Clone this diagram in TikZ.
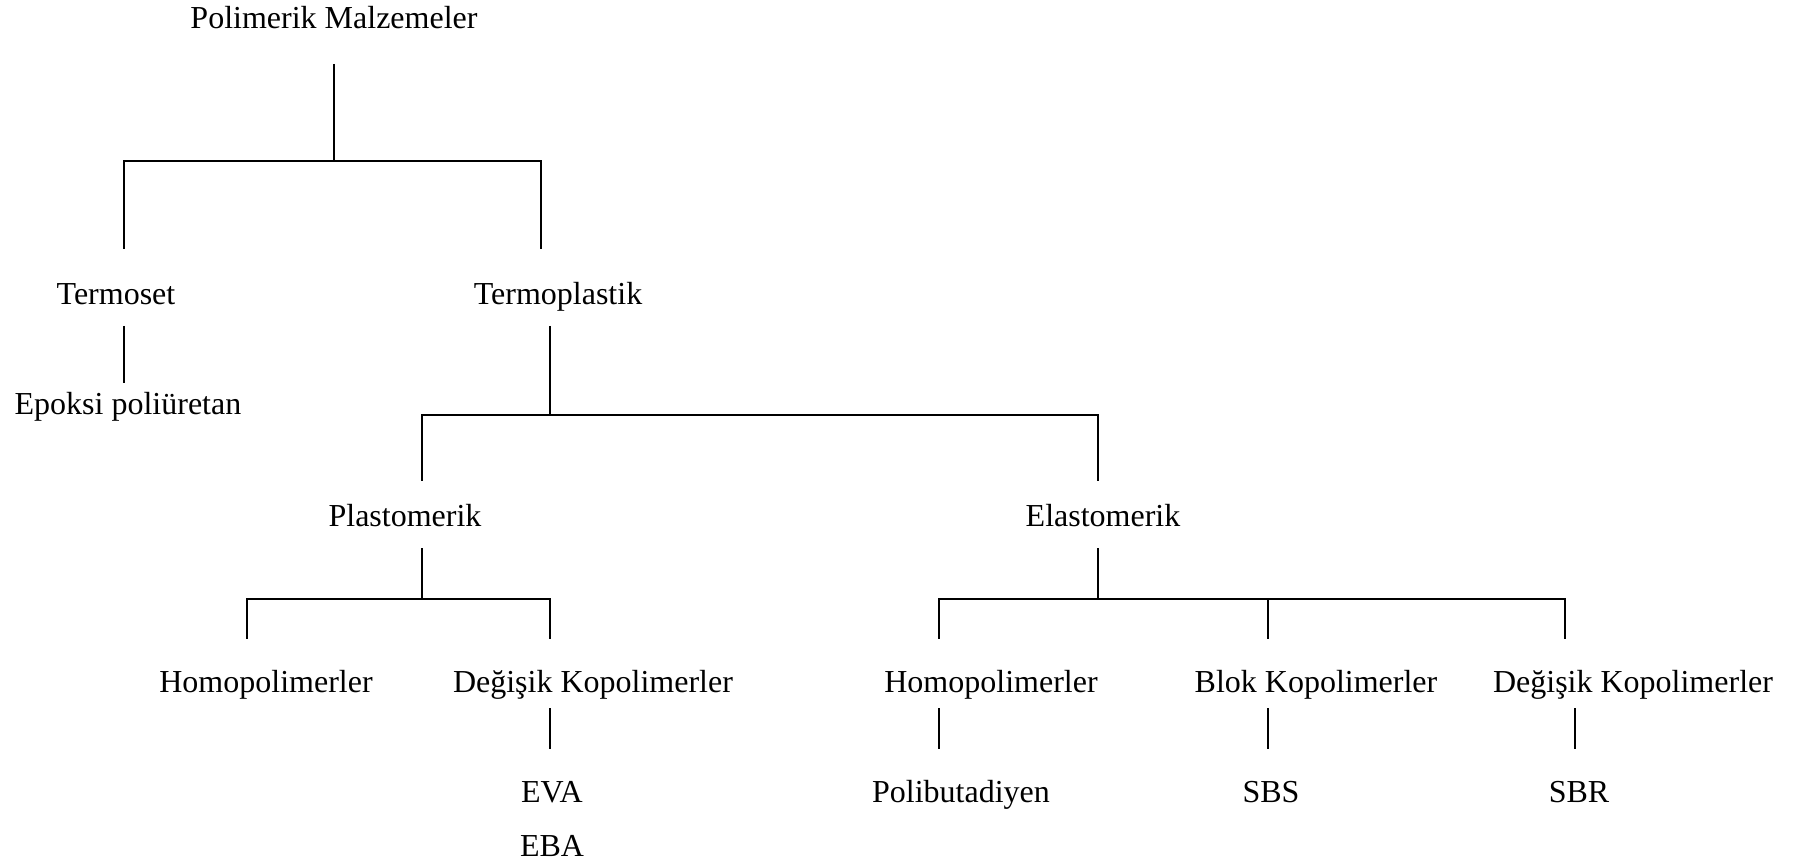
\documentclass[tikz,border=0pt]{standalone}
\usepackage{fontspec}
\setmainfont{Liberation Serif}
\begin{document}
\begin{tikzpicture}[x=1pt,y=-1pt,
  lbl/.style={inner sep=0pt, anchor=base, font=\fontsize{32}{38}\selectfont},
  vline/.style={line width=1.4pt},
  hbar/.style={line width=2.2pt, line cap=rect}]
\useasboundingbox (0,0) rectangle (1800,866);
% labels
\node[lbl] (root) at (334,29) {Polimerik Malzemeler};
\node[lbl] (tset) at (116,305) {Termoset};
\node[lbl] (tpl) at (558,305) {Termoplastik};
\node[lbl] (epo) at (128,415) {Epoksi poliüretan};
\node[lbl] (plas) at (405,526) {Plastomerik};
\node[lbl] (elas) at (1103,526) {Elastomerik};
\node[lbl] (phom) at (266,692) {Homopolimerler};
\node[lbl] (pdeg) at (593,692) {Değişik Kopolimerler};
\node[lbl] (eva) at (552,802) {EVA};
\node[lbl] (eba) at (552,856) {EBA};
\node[lbl] (ehom) at (991,692) {Homopolimerler};
\node[lbl] (eblok) at (1316,692) {Blok Kopolimerler};
\node[lbl] (edeg) at (1633,692) {Değişik Kopolimerler};
\node[lbl] (pbd) at (961,802) {Polibutadiyen};
\node[lbl] (sbs) at (1271,802) {SBS};
\node[lbl] (sbr) at (1579,802) {SBR};
% connector ends
\coordinate (rootS) at (334,64);   \coordinate (rootJ) at (334,161);
\coordinate (tsetN) at (124,249);  \coordinate (tplN) at (541,249);
\coordinate (tsetS) at (124,326);  \coordinate (epoN) at (124,383);
\coordinate (tplS) at (550,326);   \coordinate (tplJ) at (550,415);
\coordinate (plasN) at (422,481);  \coordinate (elasN) at (1098,481);
\coordinate (plasS) at (422,548);  \coordinate (plasJ) at (422,599);
\coordinate (phomN) at (247,639);  \coordinate (pdegN) at (550,639);
\coordinate (pdegS) at (550,708);  \coordinate (evaN) at (550,749);
\coordinate (elasS) at (1098,548); \coordinate (elasJ) at (1098,599);
\coordinate (ehomN) at (939,639);  \coordinate (eblokN) at (1268,639); \coordinate (edegN) at (1565,639);
\coordinate (ehomS) at (939,708);  \coordinate (pbdN) at (939,749);
\coordinate (eblokS) at (1268,708); \coordinate (sbsN) at (1268,749);
\coordinate (edegS) at (1575,708); \coordinate (sbrN) at (1575,749);
% level 1
\draw[vline] (rootS) -- (rootJ);
\draw[hbar] (tsetN |- rootJ) -- (tplN |- rootJ);
\draw[vline] (tsetN |- rootJ) -- (tsetN);
\draw[vline] (tplN |- rootJ) -- (tplN);
% termoset
\draw[vline] (tsetS) -- (epoN);
% termoplastik
\draw[vline] (tplS) -- (tplJ);
\draw[hbar] (plasN |- tplJ) -- (elasN |- tplJ);
\draw[vline] (plasN |- tplJ) -- (plasN);
\draw[vline] (elasN |- tplJ) -- (elasN);
% plastomerik
\draw[vline] (plasS) -- (plasJ);
\draw[hbar] (phomN |- plasJ) -- (pdegN |- plasJ);
\draw[vline] (phomN |- plasJ) -- (phomN);
\draw[vline] (pdegN |- plasJ) -- (pdegN);
\draw[vline] (pdegS) -- (evaN);
% elastomerik
\draw[vline] (elasS) -- (elasJ);
\draw[hbar] (ehomN |- elasJ) -- (edegN |- elasJ);
\draw[vline] (ehomN |- elasJ) -- (ehomN);
\draw[vline] (eblokN |- elasJ) -- (eblokN);
\draw[vline] (edegN |- elasJ) -- (edegN);
\draw[vline] (ehomS) -- (pbdN);
\draw[vline] (eblokS) -- (sbsN);
\draw[vline] (edegS) -- (sbrN);
\end{tikzpicture}
\end{document}
